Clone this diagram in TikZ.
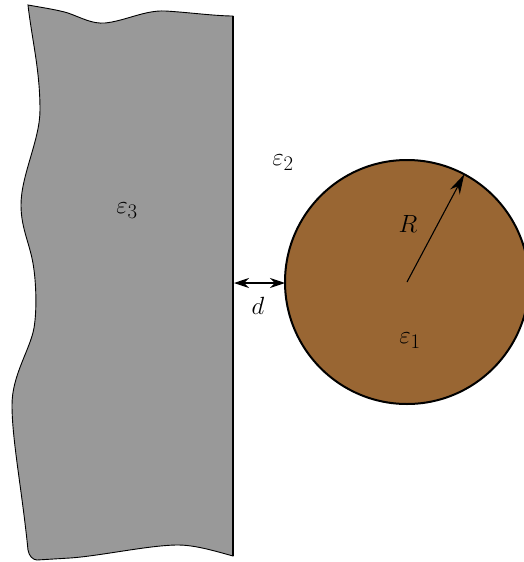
\documentclass[tikz,border=0pt]{standalone}
\usetikzlibrary{arrows.meta}
\definecolor{wallgray}{RGB}{153,153,153}
\definecolor{spherebrown}{RGB}{153,102,51}
\begin{document}
\begin{tikzpicture}[x=1pt,y=-1pt,
  lbl/.style={font=\fontsize{31}{36}\selectfont, inner sep=0pt},
  darrow/.style={{Stealth[length=15pt,width=10pt]}-{Stealth[length=15pt,width=10pt]}, line width=1.1pt},
  rarrow/.style={-{Stealth[length=20pt,width=11pt]}, line width=1.1pt}]
\useasboundingbox (0,0) rectangle (523,562);
% wall
\path[fill=wallgray, draw=black, line width=0.9pt]
  (28,5) .. controls (45,8) and (58,10) .. (68,13)
  .. controls (82,18) and (92,24) .. (105,23)
  .. controls (125,21) and (145,10) .. (165,11)
  .. controls (185,12) and (215,16) .. (233,16)
  -- (233,556)
  .. controls (215,551) and (195,545) .. (178,545)
  .. controls (150,545) and (100,556) .. (70,558)
  -- (37,560)
  .. controls (33,560) and (29,556) .. (28,550)
  .. controls (22,490) and (12,440) .. (12,405)
  .. controls (12,375) and (30,350) .. (34,328)
  .. controls (37,310) and (36,285) .. (34,270)
  .. controls (31,245) and (21,230) .. (21,205)
  .. controls (21,175) and (40,140) .. (40,110)
  .. controls (40,70) and (32,40) .. (28,5)
  -- cycle;
\coordinate (wtop) at (233,16);
\coordinate (wbot) at (233,556);
\draw[line width=2.6pt] (wtop) -- (wbot);
% sphere
\node[circle, draw=black, fill=spherebrown, line width=2pt, minimum size=244pt, inner sep=0pt, outer sep=0pt] (sph) at (407,282) {};
\coordinate (wd) at (234,283);
\draw[darrow] (wd) -- (sph.west |- wd);
\draw[rarrow] (sph.center) -- (sph.62);
% labels
\node[lbl] (e3) at (127,211) {$\varepsilon_3$};
\node[lbl] (e2) at (283,163) {$\varepsilon_2$};
\node[lbl] (e1) at (410,341) {$\varepsilon_1$};
\node[lbl] (r) at (408,224) {$R$};
\node[lbl] (d) at (258,306) {$d$};
\end{tikzpicture}
\end{document}
